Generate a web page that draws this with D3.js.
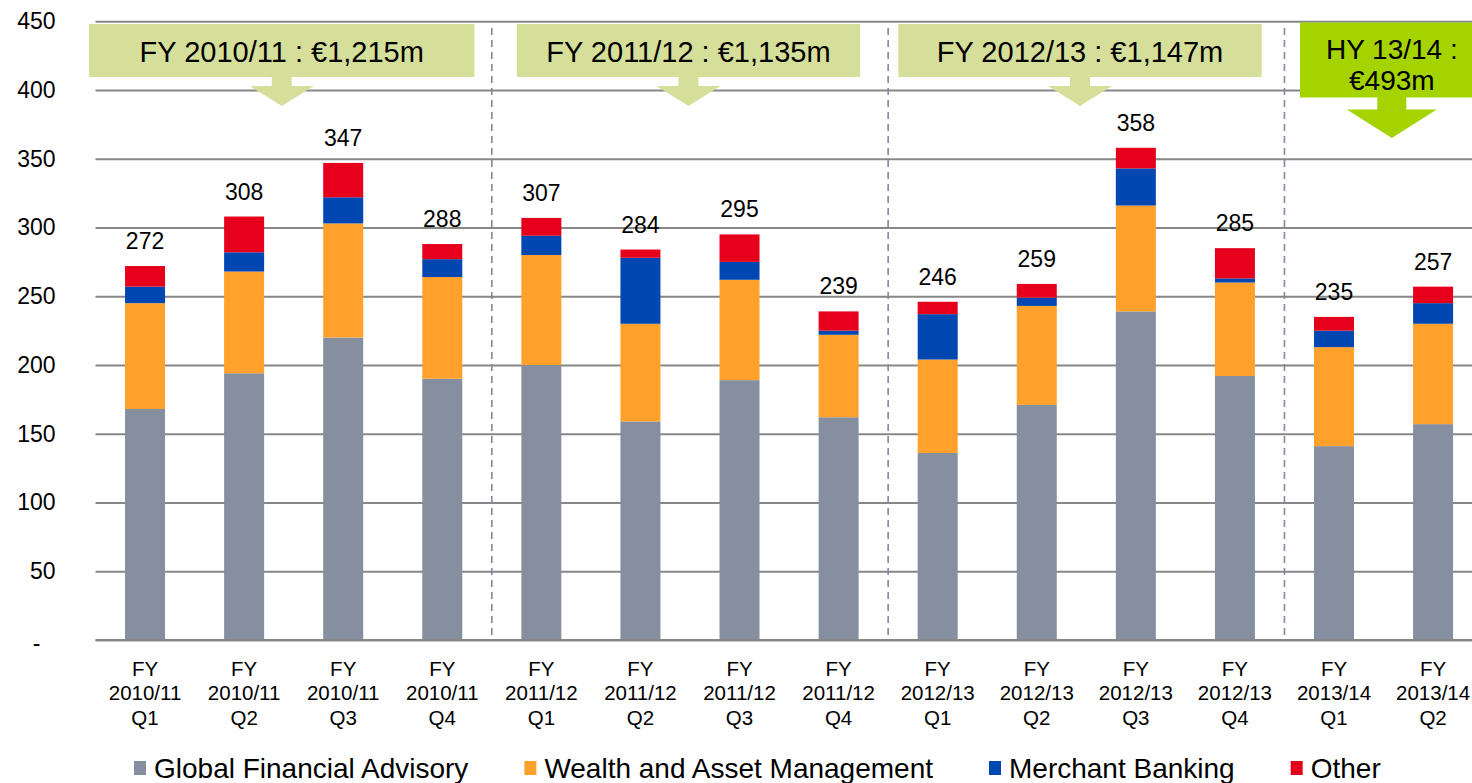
<!DOCTYPE html>
<html>
<head>
<meta charset="utf-8">
<script src="https://cdn.jsdelivr.net/npm/d3@7"></script>
<style>
  html, body { margin: 0; padding: 0; background: #fff; }
  svg { display: block; font-family: "Liberation Sans", Arial, sans-serif; }
</style>
</head>
<body>
<div class="d3-wrapper"></div>
<script>
// Quarterly revenue by business line (€m)
const quarters = [
  ['FY', '2010/11', 'Q1'], ['FY', '2010/11', 'Q2'], ['FY', '2010/11', 'Q3'], ['FY', '2010/11', 'Q4'],
  ['FY', '2011/12', 'Q1'], ['FY', '2011/12', 'Q2'], ['FY', '2011/12', 'Q3'], ['FY', '2011/12', 'Q4'],
  ['FY', '2012/13', 'Q1'], ['FY', '2012/13', 'Q2'], ['FY', '2012/13', 'Q3'], ['FY', '2012/13', 'Q4'],
  ['FY', '2013/14', 'Q1'], ['FY', '2013/14', 'Q2']
];
const seriesNames = ['Global Financial Advisory', 'Wealth and Asset Management', 'Merchant Banking', 'Other'];
const globalAdvisory = [168, 194, 220, 190, 200, 159, 189, 162, 136, 171, 239, 192, 141, 157];
const wealthMgmt     = [ 77,  74,  83,  74,  80,  71,  73,  60,  68,  72,  77,  68,  72,  73];
const merchantBank   = [ 12,  14,  19,  13,  14,  48,  13,   3,  33,   6,  27,   3,  12,  15];
const other          = [ 15,  26,  25,  11,  13,   6,  20,  14,   9,  10,  15,  22,  10,  12];
const totals         = [272, 308, 347, 288, 307, 284, 295, 239, 246, 259, 358, 285, 235, 257];
const yTicks = [0, 50, 100, 150, 200, 250, 300, 350, 400, 450];

// Year call-outs: span given in category units (0 = left edge of first band)
const calloutText  = [['FY 2010/11 : €1,215m'], ['FY 2011/12 : €1,135m'], ['FY 2012/13 : €1,147m'], ['HY 13/14 :', '€493m']];
const calloutStart = [-0.065, 4.252, 8.103, 12.157];
const calloutEnd   = [3.824, 7.717, 11.770, 14.010];
const separators   = [4, 8, 12];

const COLORS = ['#858fa0', '#ffa12b', '#0047b2', '#e6001c'];
const WIDTH = 1472, HEIGHT = 783;
const PLOT = { left: 95.5, top: 21.3, bottom: 640, step: 99.08 };
const BAR_W = 40;

const svg = d3.select('.d3-wrapper').append('svg')
  .attr('width', WIDTH)
  .attr('height', HEIGHT);

const keys = quarters.map(q => q.join(' '));
const xScale = d3.scaleBand()
  .domain(keys)
  .range([PLOT.left, PLOT.left + PLOT.step * keys.length])
  .paddingInner(1 - BAR_W / PLOT.step)
  .paddingOuter((1 - BAR_W / PLOT.step) / 2);
const unitScale = d3.scaleLinear().domain([0, keys.length]).range(xScale.range());
const yScale = d3.scaleLinear().domain([0, 450]).range([PLOT.bottom, PLOT.top]);

// gridlines + y labels
const yAxis = d3.axisLeft(yScale)
  .tickValues(yTicks)
  .tickSizeInner(-(WIDTH - PLOT.left))
  .tickSizeOuter(0)
  .tickPadding(40)
  .tickFormat(d => d === 0 ? '-' : d);

const yG = svg.append('g')
  .attr('transform', `translate(${PLOT.left},0)`)
  .call(yAxis);
yG.select('.domain').remove();
yG.selectAll('line').attr('stroke', '#878787').attr('stroke-width', 2);
yG.selectAll('text')
  .attr('fill', '#000')
  .style('font-size', '23px')
  .style('font-family', '"Liberation Sans", Arial, sans-serif');
yG.selectAll('.tick').filter(d => d === 0).select('text')
  .attr('text-anchor', 'middle')
  .attr('x', 36.5 - PLOT.left)
  .attr('dy', '0.45em');

// stacked bars
const rows = keys.map((k, i) => ({
  key: k,
  [seriesNames[0]]: globalAdvisory[i],
  [seriesNames[1]]: wealthMgmt[i],
  [seriesNames[2]]: merchantBank[i],
  [seriesNames[3]]: other[i]
}));
const stacked = d3.stack().keys(seriesNames)(rows);

svg.append('g').selectAll('g')
  .data(stacked)
  .join('g')
  .attr('fill', (d, i) => COLORS[i])
  .selectAll('rect')
  .data(d => d)
  .join('rect')
  .attr('x', d => xScale(d.data.key))
  .attr('width', xScale.bandwidth())
  .attr('y', d => yScale(d[1]))
  .attr('height', d => yScale(d[0]) - yScale(d[1]));

// total labels
svg.append('g').selectAll('text')
  .data(keys)
  .join('text')
  .attr('x', d => xScale(d) + xScale.bandwidth() / 2)
  .attr('y', (d, i) => yScale(d3.sum(stacked, s => s[i][1] - s[i][0])) - 17)
  .attr('text-anchor', 'middle')
  .style('font-size', '23px')
  .text((d, i) => totals[i]);

// dashed year separators
svg.append('g').selectAll('line')
  .data(separators)
  .join('line')
  .attr('x1', d => unitScale(d))
  .attr('x2', d => unitScale(d))
  .attr('y1', 28)
  .attr('y2', PLOT.bottom)
  .attr('stroke', '#7d8aa1')
  .attr('stroke-width', 1.6)
  .attr('stroke-dasharray', '7,5');

// x axis labels, three lines each
const xAxis = d3.axisBottom(xScale).tickSize(0).tickFormat('');
const xG = svg.append('g')
  .attr('transform', `translate(0,${PLOT.bottom})`)
  .call(xAxis);
xG.select('.domain').remove();
xG.selectAll('.tick').append('text')
  .attr('text-anchor', 'middle')
  .attr('fill', '#000')
  .style('font-size', '20.5px')
  .selectAll('tspan')
  .data(d => d.split(' '))
  .join('tspan')
  .attr('x', 0)
  .attr('y', (d, i) => 36 + i * 24.3)
  .text(d => d);

// baseline
svg.append('line')
  .attr('x1', PLOT.left)
  .attr('x2', WIDTH)
  .attr('y1', yScale(0))
  .attr('y2', yScale(0))
  .attr('stroke', '#878787')
  .attr('stroke-width', 2);

// call-out boxes with down arrows
calloutText.forEach((lines, i) => {
  const bright = lines.length > 1;
  const fill = bright ? '#a5d300' : '#d6df9a';
  const x0 = unitScale(calloutStart[i]);
  const x1 = unitScale(calloutEnd[i]);
  const cx = (x0 + x1) / 2;
  const top = bright ? 22.5 : 24;
  const bottom = bright ? 97.5 : 77;
  const stemW = bright ? 29 : 20;
  const stemH = bright ? 12 : 9;
  const triW = bright ? 45 : 32;
  const triH = bright ? 28.5 : 20;
  const g = svg.append('g');
  g.append('rect')
    .attr('x', x0)
    .attr('y', top)
    .attr('width', x1 - x0)
    .attr('height', bottom - top)
    .attr('fill', fill);
  const sy = bottom + stemH;
  g.append('path')
    .attr('d', `M${cx - stemW / 2},${bottom - 0.5} L${cx + stemW / 2},${bottom - 0.5} L${cx + stemW / 2},${sy} ` +
      `L${cx + triW},${sy} L${cx},${sy + triH} L${cx - triW},${sy} L${cx - stemW / 2},${sy} Z`)
    .attr('fill', fill);
  const fs = bright ? 28 : 29;
  const baselines = bright ? [58.5, 89.5] : [61.8];
  g.selectAll('text')
    .data(lines)
    .join('text')
    .attr('x', cx)
    .attr('y', (d, j) => baselines[j])
    .attr('text-anchor', 'middle')
    .style('font-size', fs + 'px')
    .text(d => d);
});

// legend
const legend = svg.append('g').attr('transform', 'translate(134,0)');
let lx = 0;
seriesNames.forEach((name, i) => {
  const item = legend.append('g').attr('transform', `translate(${lx},0)`);
  item.append('rect')
    .attr('x', 0)
    .attr('y', 761)
    .attr('width', 12)
    .attr('height', 14)
    .attr('fill', COLORS[i]);
  const t = item.append('text')
    .attr('x', 20)
    .attr('y', 778)
    .style('font-size', '28px')
    .text(name);
  lx += 20 + t.node().getComputedTextLength() + 56;
});
</script>
</body>
</html>
